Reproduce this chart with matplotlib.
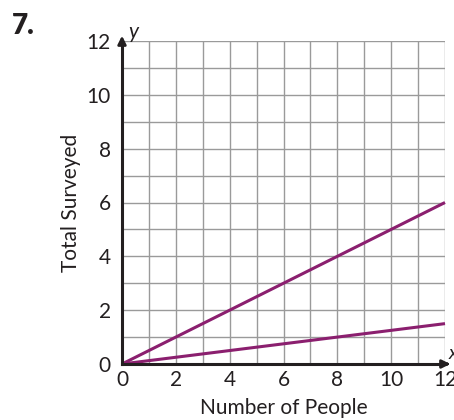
import matplotlib
matplotlib.use("Agg")
import matplotlib.pyplot as plt

plt.rcParams['font.family'] = ['Lato', 'DejaVu Sans']

x_ticks = [0, 2, 4, 6, 8, 10, 12]
y_ticks = [0, 2, 4, 6, 8, 10, 12]
# Two proportional relationships: end values at x = 12
line_x = [0, 12]
steep_y = [0, 6]
shallow_y = [0, 1.5]

line_color = '#8b1f6f'
ink = '#231f20'

fig = plt.figure(figsize=(4.54, 4.2), dpi=100)
ax = fig.add_axes([122/454, 56/420, 323/454, 323/420])
ax.set_xlim(0, 12)
ax.set_ylim(0, 12)

# unit grid
for v in range(1, 13):
    ax.axvline(v, color='#9a9a9a', lw=1.0, zorder=1)
    ax.axhline(v, color='#9a9a9a', lw=1.0, zorder=1)

ax.plot(line_x, steep_y, color=line_color, lw=2.2, zorder=3, clip_on=False, solid_capstyle='butt')
ax.plot(line_x, shallow_y, color=line_color, lw=2.2, zorder=3, clip_on=False, solid_capstyle='butt')

for s in ['top', 'right']:
    ax.spines[s].set_visible(False)
for s in ['left', 'bottom']:
    ax.spines[s].set_linewidth(2.2)
    ax.spines[s].set_color(ink)
    ax.spines[s].set_zorder(4)

# axis arrows
ax.annotate('', xy=(12.3, 0), xytext=(11.9, 0), xycoords='data',
            arrowprops=dict(arrowstyle='-|>', color=ink, lw=2.0, mutation_scale=12),
            annotation_clip=False)
ax.annotate('', xy=(0, 12.3), xytext=(0, 11.9), xycoords='data',
            arrowprops=dict(arrowstyle='-|>', color=ink, lw=2.0, mutation_scale=12),
            annotation_clip=False)

ax.set_xticks(x_ticks)
ax.set_yticks(y_ticks)
ax.set_xticklabels([str(t) for t in x_ticks])
ax.set_yticklabels([str(t) for t in y_ticks])
ax.tick_params(length=0, labelsize=15, colors=ink)
ax.tick_params(axis='y', pad=8)
ax.tick_params(axis='x', pad=4)

ax.set_xlabel('Number of People', fontsize=15, color=ink, labelpad=6)
ax.set_ylabel('Total Surveyed', fontsize=15, color=ink, labelpad=4)

ax.text(0.25, 12.35, 'y', fontsize=15, style='italic', color=ink, va='center')
ax.text(12.12, 0.4, 'x', fontsize=14, style='italic', color=ink, va='center')

fig.text(12/454, 1 - 26/420, '7.', fontsize=20, fontweight='heavy', color=ink, va='center')

fig.savefig('out.png', dpi=100)
